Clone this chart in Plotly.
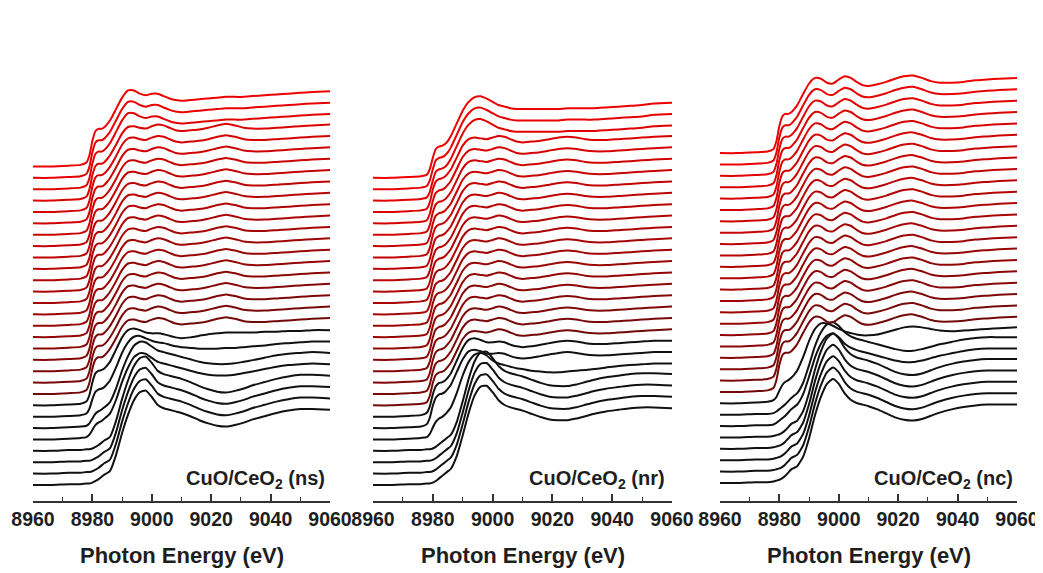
import plotly.graph_objects as go

# ---------------- data (normalized absorption) ----------------
ENERGY = [8960, 8966, 8972, 8976, 8978, 8979, 8980, 8981, 8982, 8983,
          8984, 8985, 8986, 8988, 8990, 8992, 8994, 8996, 8998, 9000,
          9002, 9004, 9006, 9008, 9010, 9013, 9016, 9019, 9022, 9025,
          9028, 9031, 9034, 9038, 9042, 9046, 9050, 9054, 9060]

# --- CuO/CeO2 (ns)
NS_CUO = [0.00, 0.00, 0.01, 0.01, 0.02, 0.02, 0.03, 0.05, 0.07, 0.10,
          0.13, 0.15, 0.18, 0.38, 0.65, 0.88, 1.06, 1.16, 1.18, 1.10,
          1.00, 0.96, 0.94, 0.92, 0.90, 0.86, 0.81, 0.77, 0.74, 0.73,
          0.75, 0.78, 0.82, 0.86, 0.90, 0.93, 0.95, 0.95, 0.94]
NS_MIX_A = [0.00, 0.00, 0.01, 0.02, 0.03, 0.06, 0.12, 0.18, 0.21, 0.23,
            0.26, 0.29, 0.33, 0.50, 0.72, 0.90, 1.03, 1.08, 1.07, 1.02,
            0.97, 0.95, 0.93, 0.91, 0.89, 0.86, 0.83, 0.81, 0.80, 0.80,
            0.81, 0.83, 0.85, 0.88, 0.91, 0.93, 0.94, 0.95, 0.94]
NS_MIX_B = [0.00, 0.00, 0.01, 0.02, 0.04, 0.10, 0.22, 0.31, 0.34, 0.35,
            0.37, 0.41, 0.46, 0.62, 0.80, 0.93, 1.00, 1.01, 0.98, 0.95,
            0.93, 0.92, 0.90, 0.88, 0.87, 0.86, 0.85, 0.85, 0.85, 0.86,
            0.86, 0.87, 0.88, 0.89, 0.91, 0.92, 0.93, 0.94, 0.94]
NS_MIX_C = [0.00, 0.00, 0.01, 0.02, 0.05, 0.13, 0.29, 0.40, 0.43, 0.44,
            0.46, 0.50, 0.55, 0.70, 0.85, 0.94, 0.96, 0.94, 0.91, 0.90,
            0.90, 0.89, 0.87, 0.85, 0.84, 0.85, 0.87, 0.89, 0.90, 0.91,
            0.91, 0.91, 0.91, 0.92, 0.92, 0.93, 0.93, 0.94, 0.94]
NS_RED = [0.00, 0.00, 0.01, 0.02, 0.05, 0.14, 0.32, 0.43, 0.46, 0.46,
          0.48, 0.52, 0.57, 0.70, 0.84, 0.92, 0.93, 0.91, 0.90, 0.93,
          0.95, 0.94, 0.91, 0.88, 0.87, 0.88, 0.89, 0.91, 0.94, 0.96,
          0.94, 0.91, 0.90, 0.90, 0.91, 0.92, 0.93, 0.94, 0.95]
NS_RED_TOP = [0.00, 0.00, 0.01, 0.02, 0.05, 0.14, 0.32, 0.44, 0.47, 0.47,
              0.49, 0.53, 0.58, 0.72, 0.86, 0.95, 0.95, 0.91, 0.89, 0.91,
              0.91, 0.88, 0.85, 0.83, 0.82, 0.83, 0.84, 0.85, 0.86, 0.87,
              0.87, 0.87, 0.88, 0.89, 0.90, 0.91, 0.92, 0.93, 0.94]
NS_ORDER = ["NS_CUO"] * 4 + ["NS_MIX_A"] * 2 + ["NS_MIX_B", "NS_MIX_C"] + ["NS_RED"] * 18 + ["NS_RED_TOP"] * 3
NS_N_BLACK = 8

# --- CuO/CeO2 (nr)
NR_CUO = [0.00, 0.00, 0.01, 0.01, 0.02, 0.02, 0.03, 0.05, 0.08, 0.11,
          0.14, 0.17, 0.20, 0.36, 0.62, 0.90, 1.12, 1.23, 1.24, 1.16,
          1.06, 1.00, 0.97, 0.95, 0.93, 0.89, 0.85, 0.82, 0.81, 0.81,
          0.83, 0.86, 0.89, 0.92, 0.94, 0.96, 0.97, 0.97, 0.96]
NR_MIX = [0.00, 0.00, 0.01, 0.02, 0.03, 0.07, 0.15, 0.22, 0.26, 0.28,
          0.31, 0.35, 0.40, 0.58, 0.80, 0.97, 1.06, 1.08, 1.05, 0.99,
          0.95, 0.93, 0.91, 0.89, 0.88, 0.86, 0.85, 0.84, 0.84, 0.85,
          0.86, 0.87, 0.88, 0.90, 0.92, 0.93, 0.94, 0.95, 0.95]
NR_BLK_CU = [0.00, 0.00, 0.01, 0.02, 0.05, 0.13, 0.28, 0.38, 0.42, 0.43,
             0.45, 0.49, 0.54, 0.70, 0.86, 0.96, 0.98, 0.96, 0.93, 0.93,
             0.94, 0.93, 0.90, 0.88, 0.87, 0.88, 0.90, 0.92, 0.94, 0.95,
             0.94, 0.92, 0.91, 0.91, 0.92, 0.93, 0.94, 0.95, 0.95]
NR_RED = [0.00, 0.00, 0.01, 0.02, 0.04, 0.12, 0.28, 0.38, 0.41, 0.42,
          0.44, 0.48, 0.53, 0.68, 0.83, 0.91, 0.93, 0.92, 0.91, 0.93,
          0.95, 0.94, 0.91, 0.88, 0.87, 0.88, 0.89, 0.91, 0.93, 0.94,
          0.93, 0.91, 0.90, 0.90, 0.91, 0.92, 0.93, 0.94, 0.95]
NR_RED_TOP = [0.00, 0.00, 0.01, 0.02, 0.04, 0.11, 0.25, 0.36, 0.39, 0.40,
              0.42, 0.46, 0.52, 0.68, 0.84, 0.95, 1.01, 1.02, 0.99, 0.95,
              0.91, 0.89, 0.87, 0.86, 0.86, 0.86, 0.86, 0.86, 0.86, 0.87,
              0.87, 0.87, 0.87, 0.88, 0.89, 0.90, 0.91, 0.93, 0.94]
NR_ORDER = ["NR_CUO"] * 4 + ["NR_MIX"] + ["NR_BLK_CU"] * 2 + ["NR_RED"] * 18 + ["NR_RED_TOP"] * 3
NR_N_BLACK = 7

# --- CuO/CeO2 (nc)
NC_CUO = [0.00, 0.00, 0.01, 0.01, 0.02, 0.03, 0.04, 0.06, 0.09, 0.13,
          0.17, 0.19, 0.21, 0.33, 0.56, 0.85, 1.08, 1.24, 1.30, 1.24,
          1.12, 1.04, 1.00, 0.98, 0.96, 0.92, 0.87, 0.82, 0.79, 0.78,
          0.80, 0.84, 0.88, 0.92, 0.95, 0.97, 0.98, 0.98, 0.98]
NC_CUO_B = [0.00, 0.00, 0.01, 0.01, 0.02, 0.04, 0.07, 0.10, 0.13, 0.17,
            0.21, 0.24, 0.27, 0.40, 0.62, 0.86, 1.03, 1.13, 1.16, 1.11,
            1.03, 0.98, 0.95, 0.93, 0.91, 0.88, 0.85, 0.82, 0.80, 0.80,
            0.82, 0.85, 0.88, 0.91, 0.94, 0.96, 0.97, 0.97, 0.97]
NC_BLK_TOP = [0.00, 0.00, 0.01, 0.02, 0.04, 0.08, 0.16, 0.23, 0.27, 0.29,
              0.32, 0.36, 0.41, 0.58, 0.78, 0.93, 1.00, 1.00, 0.97, 0.93,
              0.90, 0.88, 0.86, 0.85, 0.85, 0.86, 0.89, 0.92, 0.95, 0.96,
              0.95, 0.93, 0.91, 0.90, 0.91, 0.92, 0.93, 0.94, 0.95]
NC_RED = [0.00, 0.00, 0.01, 0.02, 0.05, 0.15, 0.34, 0.46, 0.49, 0.49,
          0.51, 0.55, 0.60, 0.74, 0.87, 0.94, 0.93, 0.88, 0.87, 0.92,
          0.96, 0.94, 0.89, 0.85, 0.84, 0.86, 0.89, 0.93, 0.96, 0.97,
          0.94, 0.90, 0.88, 0.88, 0.89, 0.91, 0.92, 0.93, 0.94]
NC_ORDER = ["NC_CUO"] * 5 + ["NC_CUO_B"] * 2 + ["NC_BLK_TOP"] + ["NC_RED"] * 22
NC_N_BLACK = 8

PANEL_LABELS = ["CuO/CeO<sub>2</sub> (ns)", "CuO/CeO<sub>2</sub> (nr)", "CuO/CeO<sub>2</sub> (nc)"]
X_TICKS = [8960, 8980, 9000, 9020, 9040, 9060]
X_TITLE = "Photon Energy (eV)"

TEMPLATES = {
    "NS_CUO": NS_CUO, "NS_MIX_A": NS_MIX_A, "NS_MIX_B": NS_MIX_B, "NS_MIX_C": NS_MIX_C,
    "NS_RED": NS_RED, "NS_RED_TOP": NS_RED_TOP,
    "NR_CUO": NR_CUO, "NR_MIX": NR_MIX, "NR_BLK_CU": NR_BLK_CU, "NR_RED": NR_RED,
    "NR_RED_TOP": NR_RED_TOP,
    "NC_CUO": NC_CUO, "NC_CUO_B": NC_CUO_B, "NC_BLK_TOP": NC_BLK_TOP, "NC_RED": NC_RED,
}
PANELS = [(NS_ORDER, NS_N_BLACK), (NR_ORDER, NR_N_BLACK), (NC_ORDER, NC_N_BLACK)]

# ---------------- layout / styling ----------------
W, H = 1043, 573
PAGE_PAD = 8  # default body margin of the html page: compensate so the figure lands in place
STACK = 0.1422
X_DOMAINS_PX = [(33, 330), (373, 672), (720, 1017)]
Y_BOTTOMS = [-0.20, -0.20, -0.225]
AXIS_Y_PX = 501
TOP_PX = 40
PX_PER_UNIT = 80.0
LABEL_RIGHT_PX = [327, 667, 1015]
LABEL_Y_PX = 479
TITLE_Y_PX = 555
FONT = "Liberation Sans, Arial, Helvetica, sans-serif"
TXT = "#1e1e1e"


def px_x(v):
    return (v - PAGE_PAD) / W


def px_y(v):
    return 1 - (v - PAGE_PAD) / H


def red_shade(k, n):
    # k = 0 at bottom of red group, n-1 at top
    t = k / max(n - 1, 1)
    r = int(round(115 + t * (238 - 115)))
    g = int(round(8 - t * 8))
    return f"rgb({r},{g},{g})"


fig = go.Figure()
for p, (order, n_black) in enumerate(PANELS):
    xa = "x" if p == 0 else f"x{p + 1}"
    ya = "y" if p == 0 else f"y{p + 1}"
    n_red = len(order) - n_black
    for i, name in enumerate(order):
        base = TEMPLATES[name]
        yvals = [v + i * STACK for v in base]
        color = "#111111" if i < n_black else red_shade(i - n_black, n_red)
        fig.add_trace(go.Scatter(
            x=ENERGY, y=yvals, mode="lines", xaxis=xa, yaxis=ya,
            line=dict(color=color, width=2.0, shape="spline", smoothing=0.55),
            hoverinfo="skip", showlegend=False))

y0 = px_y(AXIS_Y_PX)
y1 = px_y(TOP_PX)
span_units = (AXIS_Y_PX - TOP_PX) / PX_PER_UNIT

layout = dict(
    width=W, height=H, margin=dict(l=0, r=0, t=0, b=0, pad=0, autoexpand=False),
    paper_bgcolor="white", plot_bgcolor="white", showlegend=False,
    font=dict(family=FONT, color=TXT),
)
annotations = []
for p in range(3):
    sfx = "" if p == 0 else str(p + 1)
    x0px, x1px = X_DOMAINS_PX[p]
    layout["xaxis" + sfx] = dict(
        domain=[px_x(x0px), px_x(x1px)], range=[8960, 9060], anchor="y" + sfx,
        automargin=False,
        showgrid=False, zeroline=False, showline=True, linecolor="#333333", linewidth=1.6,
        ticks="inside", ticklen=7, tickwidth=1.5, tickcolor="#333333",
        tickvals=X_TICKS, ticktext=[str(t) for t in X_TICKS],
        tickfont=dict(family=FONT, size=19.5, color=TXT, weight="bold"),
        minor=dict(ticks="inside", ticklen=4, tickwidth=1.3, tickcolor="#333333", dtick=10),
        ticklabelstandoff=0,
    )
    layout["yaxis" + sfx] = dict(
        domain=[y0, y1], range=[Y_BOTTOMS[p], Y_BOTTOMS[p] + span_units], anchor="x" + sfx,
        visible=False, showgrid=False, zeroline=False, automargin=False,
    )
    annotations.append(dict(
        x=px_x(LABEL_RIGHT_PX[p]), y=px_y(LABEL_Y_PX), xref="paper", yref="paper",
        xanchor="right", yanchor="middle", showarrow=False,
        text="<b>" + PANEL_LABELS[p] + "</b>",
        font=dict(family=FONT, size=20, color=TXT)))
    annotations.append(dict(
        x=px_x((x0px + x1px) / 2), y=px_y(TITLE_Y_PX), xref="paper", yref="paper",
        xanchor="center", yanchor="middle", showarrow=False,
        text="<b>" + X_TITLE + "</b>",
        font=dict(family=FONT, size=22, color=TXT)))
layout["annotations"] = annotations
fig.update_layout(**layout)

fig.write_html("out.html")
